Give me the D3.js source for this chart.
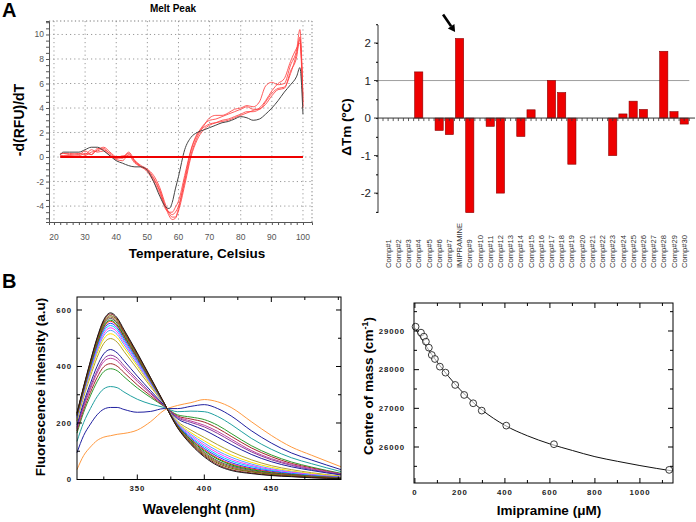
<!DOCTYPE html>
<html><head><meta charset="utf-8">
<script src="https://cdn.jsdelivr.net/npm/d3@7"></script>
<style>body{margin:0;background:#fff;} svg{display:block;} text{font-family:Arial,"Liberation Sans",sans-serif;}</style>
</head><body><svg id="c" width="696" height="522"></svg>
<script>
// ---------- Panel A (left): melt peak ----------
const meltTemps = [22,23,25,28,30,32,34,36,38,40,42,44,46,48,50,52,54,56,57,58,59,60,62,64,66,68,70,72,74,76,78,80,82,84,86,88,90,92,94,96,98,99,100];
const meltBlack = [0.2,0.4,0.4,0.4,0.6,0.8,0.8,0.5,0.1,-0.3,-0.5,-0.7,-0.8,-0.8,-1.1,-2.0,-3.2,-4.1,-4.2,-3.7,-2.6,-1.6,0.6,1.6,2.0,2.2,2.4,2.6,2.8,2.9,3.1,3.3,3.2,3.0,3.1,3.5,4.0,4.6,5.3,5.9,6.6,7.3,3.5];
const meltRed1 = [0.1,0.1,0.1,0.1,0.3,0.2,0.6,0.8,0.4,0.0,-0.1,0.4,-0.3,-0.8,-1.0,-1.5,-2.5,-4.0,-4.6,-4.9,-4.9,-4.2,-2.0,0.2,1.6,2.5,3.2,3.4,3.4,3.6,3.9,4.0,4.2,4.1,4.5,5.8,6.1,5.9,6.0,7.5,8.8,10.4,4.5];
const meltRed2 = [0.2,0.3,0.3,0.2,0.5,0.2,0.7,0.6,0.3,-0.1,0.0,0.3,-0.4,-0.8,-1.1,-1.8,-2.8,-4.2,-4.5,-4.7,-4.5,-4.0,-1.8,0.5,1.8,2.6,3.0,3.1,3.3,3.5,3.7,3.9,4.1,3.9,3.9,4.5,5.2,5.6,5.7,6.8,8.5,9.6,5.0];
const meltRed3 = [0.1,0.1,0.1,0.0,0.1,0.4,0.5,0.7,0.2,-0.2,-0.3,0.2,-0.3,-0.7,-1.0,-1.7,-2.7,-4.2,-4.8,-5.1,-5.0,-4.4,-2.3,0.0,1.4,2.2,2.6,2.8,3.0,3.1,3.3,3.5,3.7,3.7,3.9,4.3,5.0,5.5,5.6,7.0,8.2,9.8,4.2];
const meltRed4 = [0.3,0.3,0.2,0.3,0.2,0.6,0.4,0.5,0.1,-0.1,0.1,0.1,-0.5,-0.8,-1.2,-2.0,-3.0,-4.3,-4.5,-4.5,-4.1,-3.6,-1.5,0.6,1.9,2.4,2.7,2.8,2.9,3.0,3.2,3.4,3.6,3.8,4.0,4.6,5.4,6.0,6.4,7.8,8.9,9.3,4.0];
const meltBaseline = [[22,0],[100,0]];
const meltXTicks = [20,30,40,50,60,70,80,90,100];
const meltYTicks = [-4,-2,0,2,4,6,8,10];

// ---------- Panel A (right): delta Tm bars ----------
const barCategories = ["Comp#1","Comp#2","Comp#3","Comp#4","Comp#5","Comp#6","Comp#7","IMIPRAMINE","Comp#9","Comp#10","Comp#11","Comp#12","Comp#13","Comp#14","Comp#15","Comp#16","Comp#17","Comp#18","Comp#19","Comp#20","Comp#21","Comp#22","Comp#23","Comp#24","Comp#25","Comp#26","Comp#27","Comp#28","Comp#29","Comp#30"];
const barValues = [0,0,0,1.23,0,-0.33,-0.44,2.12,-2.52,0,-0.22,-2.0,0,-0.49,0.22,0,1.0,0.68,-1.23,0,0,0,-1.0,0.11,0.45,0.23,0,1.78,0.17,-0.16];
const barYTicks = [-2,-1,0,1,2];
const barRefLine = 1;

// ---------- Panel B (left): fluorescence spectra ----------
const specWavelengths = [305,310,315,320,325,330,335,340,350,360,370,380,390,400,410,420,435,450,465,480,502];
const spectrum01 = [236,330,419,502,566,590,572,531,448,360,271,183,124,80,49,32,21,14,10,6,3];
const spectrum02 = [235,328,417,499,562,586,568,527,445,359,271,184,127,84,53,35,23,15,11,7,3];
const spectrum03 = [233,326,413,495,557,580,563,523,442,356,270,186,130,88,58,40,27,18,13,8,4];
const spectrum04 = [232,324,411,491,553,575,558,519,439,355,270,187,133,92,62,44,29,20,14,9,4];
const spectrum05 = [230,322,408,487,548,570,553,514,435,353,270,188,136,96,66,48,32,22,16,10,5];
const spectrum06 = [228,320,404,482,542,564,547,509,432,351,269,190,140,101,72,52,35,24,17,11,6];
const spectrum07 = [227,318,402,479,538,560,543,505,429,349,269,191,142,105,75,55,38,26,18,12,6];
const spectrum08 = [225,315,398,474,532,553,537,500,425,347,269,193,146,110,81,60,41,29,20,13,7];
const spectrum09 = [223,312,393,468,525,545,530,493,420,344,268,195,150,116,87,66,46,32,22,15,7];
const spectrum10 = [220,309,388,462,517,537,522,486,415,341,268,197,155,122,94,72,50,35,25,17,8];
const spectrum11 = [217,305,383,455,509,528,513,478,409,338,267,199,160,129,101,79,55,38,27,18,9];
const spectrum12 = [213,300,376,446,498,516,502,468,402,334,267,202,166,137,110,87,61,43,30,21,10];
const spectrum13 = [207,292,365,432,482,499,486,454,391,328,266,206,175,149,123,99,70,49,35,24,12];
const spectrum14 = [193,273,340,401,445,460,448,421,366,314,263,215,194,175,150,124,89,63,45,32,16];
const spectrum15 = [185,264,328,385,427,440,430,404,354,307,262,219,202,186,163,136,98,70,50,35,18];
const spectrum16 = [180,258,320,377,417,429,420,395,347,303,261,222,207,192,170,143,103,74,53,38,19];
const spectrum17 = [172,248,308,361,399,410,401,379,335,296,260,225,214,203,181,153,112,81,57,41,20];
const spectrum18 = [164,238,296,346,382,392,385,364,324,290,259,229,221,212,192,163,120,87,62,44,22];
const spectrum19 = [135,202,251,293,321,329,325,310,284,267,255,240,242,240,223,195,146,107,77,56,28];
const spectrum20 = [95,156,196,229,249,255,255,248,238,241,251,251,259,265,251,225,173,129,94,69,35];
const spectrum21 = [35,85,115,138,150,155,160,163,175,205,245,262,272,283,275,255,205,156,115,86,45];
const spectrumColors = ["#1a1a1a","#8b1a1a","#6b6b00","#a0522d","#505050","#00a000","#ff2020","#3030ff","#00c8ff","#ff30ff","#5aa0ff","#ffe000","#b0a030","#1c1c9c","#8b3a9b","#c040a0","#a02828","#2e9b2e","#20a0a0","#2020a0","#ff9a40"];
const specXTicks = [350,400,450];
const specXMinor = [325,375,425,475,500];
const specYTicks = [0,200,400,600];
const specYMinor = [100,300,500];

// ---------- Panel B (right): centre of mass ----------
const imiConc = [3,27,40,49,62,75,89,111,136,179,219,259,297,406,618,1130];
const imiCoM  = [29111,28957,28853,28724,28569,28380,28276,28078,27923,27605,27346,27131,26941,26553,26072,25408];
const fitConc = [0,25,50,75,100,150,200,250,300,400,500,600,700,800,900,1000,1145];
const fitCoM  = [29080,28840,28610,28390,28190,27820,27490,27200,26950,26560,26290,26080,25910,25750,25630,25520,25380];
const comXTicks = [0,200,400,600,800,1000];
const comXMinor = [100,300,500,700,900,1100];
const comYTicks = [26000,27000,28000,29000];
const comYMinor = [25500,26500,27500,28500,29500];

const svg = d3.select('#c');
svg.append('rect').attr('width',696).attr('height',522).attr('fill','#fff');

// panel letters
svg.append('text').attr('x',2).attr('y',17).attr('font-size',20).attr('font-weight','bold').text('A');
svg.append('text').attr('x',2).attr('y',288).attr('font-size',20).attr('font-weight','bold').text('B');

// ===== Panel A left =====
(function(){
  const L=49,R=312,T=21,B=222;
  const x=d3.scaleLinear().domain([18.4,102.9]).range([L,R]);
  const y=d3.scaleLinear().domain([-5.3,11.1]).range([B,T]);
  const g=svg.append('g');
  g.selectAll('.gx').data(meltXTicks).join('line').attr('x1',d=>x(d)).attr('x2',d=>x(d)).attr('y1',T).attr('y2',B)
    .attr('stroke','#999').attr('stroke-width',1).attr('stroke-dasharray','1.2,3');
  g.selectAll('.gy').data(meltYTicks).join('line').attr('y1',d=>y(d)).attr('y2',d=>y(d)).attr('x1',L).attr('x2',R)
    .attr('stroke','#999').attr('stroke-width',1).attr('stroke-dasharray','1.2,3');
  // top/right dotted borders
  g.append('line').attr('x1',L).attr('x2',R).attr('y1',T).attr('y2',T).attr('stroke','#777').attr('stroke-dasharray','1.2,2.5');
  g.append('line').attr('x1',R).attr('x2',R).attr('y1',T).attr('y2',B).attr('stroke','#777').attr('stroke-dasharray','1.2,2.5');
  // axes with minor ticks
  const xa=d3.axisBottom(x).tickValues(d3.range(20,101,2)).tickSize(3).tickFormat('');
  g.append('g').attr('transform',`translate(0,${B})`).call(xa).call(s=>{s.select('.domain').attr('stroke','#555');s.selectAll('line').attr('stroke','#555');});
  const ya=d3.axisLeft(y).tickValues(d3.range(-5,11.01,0.5)).tickSize(3).tickFormat('');
  g.append('g').attr('transform',`translate(${L},0)`).call(ya).call(s=>{s.select('.domain').attr('stroke','#555');s.selectAll('line').attr('stroke','#555');});
  g.selectAll('.xl').data(meltXTicks).join('text').attr('x',d=>x(d)).attr('y',240).attr('text-anchor','middle')
    .attr('font-size',8.5).attr('fill','#555').text(d=>d);
  g.selectAll('.yl').data(meltYTicks).join('text').attr('x',44).attr('y',d=>y(d)+3).attr('text-anchor','end')
    .attr('font-size',8.5).attr('fill','#555').text(d=>d);
  const line=d3.line().x(d=>x(d[0])).y(d=>y(d[1])).curve(d3.curveMonotoneX);
  const series=[meltRed1,meltRed2,meltRed3,meltRed4];
  series.forEach(s=>{
    g.append('path').attr('d',line(meltTemps.map((t,i)=>[t,s[i]]))).attr('fill','none').attr('stroke','#ff4040').attr('stroke-opacity',0.85).attr('stroke-width',1);
  });
  g.append('path').attr('d',line(meltTemps.map((t,i)=>[t,meltBlack[i]]))).attr('fill','none').attr('stroke','#444').attr('stroke-width',1);
  g.append('path').attr('d',d3.line().x(d=>x(d[0])).y(d=>y(d[1]))(meltBaseline)).attr('stroke','#ee0000').attr('stroke-width',2);
  g.append('text').attr('x',173).attr('y',12).attr('text-anchor','middle').attr('font-size',10).attr('font-weight','bold').text('Melt Peak');
  g.append('text').attr('x',197).attr('y',258).attr('text-anchor','middle').attr('font-size',13.5).attr('font-weight','bold').text('Temperature, Celsius');
  g.append('text').attr('transform','translate(24,120) rotate(-90)').attr('text-anchor','middle').attr('font-size',14).attr('font-weight','bold').text('-d(RFU)/dT');
})();

// ===== Panel A right =====
(function(){
  const AX=378;
  const x=d3.scaleBand().domain(barCategories).range([383,689.3]).paddingInner(0.2).paddingOuter(0.1);
  const y=d3.scaleLinear().domain([-2.53,2.48]).range([213,25]);
  const g=svg.append('g');
  // reference line
  g.append('line').attr('x1',AX).attr('x2',x.range()[1]).attr('y1',y(barRefLine)).attr('y2',y(barRefLine)).attr('stroke','#888').attr('stroke-width',0.8);
  // bars
  g.selectAll('.bar').data(barValues.map((v,i)=>({c:barCategories[i],v}))).join('rect')
    .attr('x',d=>x(d.c)).attr('width',x.bandwidth())
    .attr('y',d=>y(Math.max(0,d.v))).attr('height',d=>Math.abs(y(d.v)-y(0)))
    .attr('fill','#ee0000').attr('stroke','#8a0000').attr('stroke-width',0.6);
  // y axis
  const ya=d3.axisLeft(y).tickValues(d3.range(-2.5,2.51,0.5)).tickSize(2).tickFormat('');
  const yg=g.append('g').attr('transform',`translate(${AX},0)`).call(ya);
  yg.select('.domain').attr('d',`M0,${y(-2.53)}V${y(2.48)}`).attr('stroke','#333');
  g.selectAll('.ymaj').data(barYTicks).join('line').attr('x1',AX-4).attr('x2',AX).attr('y1',d=>y(d)).attr('y2',d=>y(d)).attr('stroke','#333');
  g.selectAll('.yl').data(barYTicks).join('text').attr('x',AX-7).attr('y',d=>y(d)+4).attr('text-anchor','end').attr('font-size',11.5).attr('fill','#222').text(d=>d);
  // x axis at zero
  g.append('line').attr('x1',AX).attr('x2',695).attr('y1',y(0)).attr('y2',y(0)).attr('stroke','#333');
  const step=x.step();
  const tickPos=d3.range(0,61).map(i=>x.range()[0]+x.paddingOuter()*0+ i*step/2);
  g.selectAll('.xt').data(tickPos).join('line').attr('x1',d=>d).attr('x2',d=>d).attr('y1',y(0)).attr('y2',y(0)+3).attr('stroke','#333').attr('stroke-width',0.8);
  // category labels
  g.selectAll('.cl').data(barCategories).join('text')
    .attr('transform',d=>`translate(${x(d)+x.bandwidth()/2+2.6},268) rotate(-90)`)
    .attr('font-size',7.6).attr('fill','#333').text(d=>d);
  // axis title
  g.append('text').attr('transform','translate(351,127) rotate(-90)').attr('text-anchor','middle').attr('font-size',13.5).attr('font-weight','bold').text('ΔTm (ºC)');
  // arrow pointing at IMIPRAMINE
  const ix=x('IMIPRAMINE')+x.bandwidth()/2, iy=y(barValues[7]);
  const tip=[ix-4.5,iy-6.5], tail=[ix-16.5,iy-24];
  const dx=tip[0]-tail[0], dy=tip[1]-tail[1], len=Math.hypot(dx,dy), ux=dx/len, uy=dy/len;
  const bx=tip[0]-ux*7, by=tip[1]-uy*7;
  g.append('line').attr('x1',tail[0]).attr('y1',tail[1]).attr('x2',bx).attr('y2',by).attr('stroke','#000').attr('stroke-width',2.6);
  g.append('path').attr('d',`M${tip[0]},${tip[1]}L${bx-uy*4},${by+ux*4}L${bx+uy*4},${by-ux*4}Z`).attr('fill','#000');
})();

// helper for framed plots with inward ticks
function framedTicks(g,x,y,L,R,T,B,xMaj,xMin,yMaj,yMin){
  g.append('rect').attr('x',L).attr('y',T).attr('width',R-L).attr('height',B-T).attr('fill','none').attr('stroke','#000').attr('stroke-width',1);
  const tk=(arr,len)=>{
    arr.forEach(v=>{
      const px=x(v);
      g.append('line').attr('x1',px).attr('x2',px).attr('y1',B).attr('y2',B-len).attr('stroke','#000');
      g.append('line').attr('x1',px).attr('x2',px).attr('y1',T).attr('y2',T+len).attr('stroke','#000');
    });
  };
  const tky=(arr,len)=>{
    arr.forEach(v=>{
      const py=y(v);
      g.append('line').attr('y1',py).attr('y2',py).attr('x1',L).attr('x2',L+len).attr('stroke','#000');
      g.append('line').attr('y1',py).attr('y2',py).attr('x1',R).attr('x2',R-len).attr('stroke','#000');
    });
  };
  tk(xMaj,5); tk(xMin,3); tky(yMaj,5); tky(yMin,3);
}
const serifTick = s=>s.attr('font-family','"Liberation Serif","Times New Roman",serif').attr('font-weight','bold').attr('font-size',7.8).attr('letter-spacing','0.9px').attr('fill','#222');

// ===== Panel B left =====
(function(){
  const L=77,R=341,T=297,B=479.5;
  const x=d3.scaleLinear().domain([305,502]).range([L,R]);
  const y=d3.scaleLinear().domain([0,646]).range([B,T]);
  const g=svg.append('g');
  const spectra=[spectrum21,spectrum20,spectrum19,spectrum18,spectrum17,spectrum16,spectrum15,spectrum14,spectrum13,spectrum12,spectrum11,spectrum10,spectrum09,spectrum08,spectrum07,spectrum06,spectrum05,spectrum04,spectrum03,spectrum02,spectrum01];
  const cols=spectrumColors.slice().reverse();
  const line=d3.line().x(d=>x(d[0])).y(d=>y(d[1])).curve(d3.curveMonotoneX);
  spectra.forEach((s,k)=>{
    g.append('path').attr('d',line(specWavelengths.map((w,i)=>[w,s[i]]))).attr('fill','none').attr('stroke',cols[k]).attr('stroke-width',1);
  });
  framedTicks(g,x,y,L,R,T,B,specXTicks,specXMinor,specYTicks,specYMinor);
  g.selectAll('.xl').data(specXTicks).join('text').attr('x',d=>x(d)).attr('y',491).attr('text-anchor','middle').call(serifTick).text(d=>d);
  g.selectAll('.yl').data(specYTicks).join('text').attr('x',72).attr('y',d=>y(d)+2.8).attr('text-anchor','end').call(serifTick).text(d=>d);
  g.append('text').attr('x',199).attr('y',514).attr('text-anchor','middle').attr('font-size',14).attr('font-weight','bold').text('Wavelenght (nm)');
  g.append('text').attr('transform','translate(45,387) rotate(-90)').attr('text-anchor','middle').attr('font-size',13.5).attr('font-weight','bold').text('Fluorescence intensity (a.u)');
})();

// ===== Panel B right =====
(function(){
  const L=414,R=673,T=303,B=483;
  const x=d3.scaleLinear().domain([-4,1147]).range([L,R]);
  const y=d3.scaleLinear().domain([25069,29724]).range([B,T]);
  const g=svg.append('g');
  const line=d3.line().x(d=>x(d[0])).y(d=>y(d[1])).curve(d3.curveMonotoneX);
  g.append('path').attr('d',line(fitConc.map((c,i)=>[c,fitCoM[i]]))).attr('fill','none').attr('stroke','#111').attr('stroke-width',1);
  g.selectAll('.pt').data(imiConc.map((c,i)=>[c,imiCoM[i]])).join('circle')
    .attr('cx',d=>x(d[0])).attr('cy',d=>y(d[1])).attr('r',3.4).attr('fill','#fff').attr('fill-opacity',0.6).attr('stroke','#222').attr('stroke-width',0.9);
  framedTicks(g,x,y,L,R,T,B,comXTicks,comXMinor,comYTicks,comYMinor);
  g.selectAll('.xl').data(comXTicks).join('text').attr('x',d=>x(d)).attr('y',495).attr('text-anchor','middle').call(serifTick).text(d=>d);
  g.selectAll('.yl').data(comYTicks).join('text').attr('x',405).attr('y',d=>y(d)+2.8).attr('text-anchor','end').call(serifTick).text(d=>d);
  g.append('text').attr('x',549).attr('y',515).attr('text-anchor','middle').attr('font-size',13.5).attr('font-weight','bold').text('Imipramine (μM)');
  const t=g.append('text').attr('transform','translate(373,386) rotate(-90)').attr('text-anchor','middle').attr('font-size',13.5).attr('font-weight','bold');
  t.append('tspan').text('Centre of mass (cm');
  t.append('tspan').attr('dy',-5).attr('font-size',9).text('-1');
  t.append('tspan').attr('dy',5).text(')');
})();
</script></body></html>
